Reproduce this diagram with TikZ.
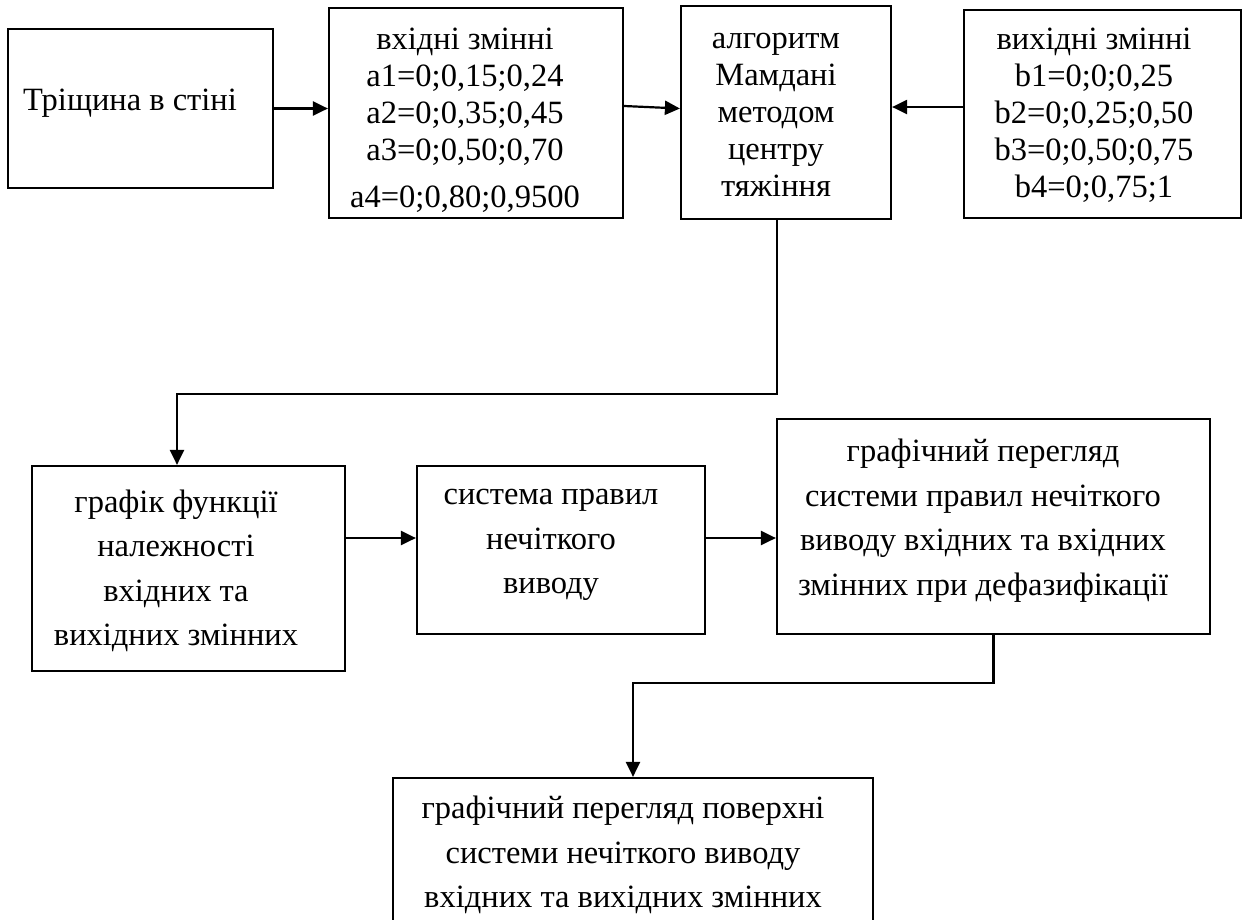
\documentclass[tikz,border=0pt]{standalone}
\usepackage{fontspec}
\setmainfont{Liberation Serif}
\usetikzlibrary{arrows.meta,calc}
\tikzset{
  box/.style={draw=black, line width=2.2pt, rectangle, inner sep=0pt, fill=none},
  txt/.style={align=center, inner sep=0pt, font=\fontsize{32.5}{37}\selectfont},
  txtw/.style={align=center, inner sep=0pt, font=\fontsize{32.5}{44.5}\selectfont},
  arr/.style={line width=2.2pt, -{Triangle[length=15pt,width=14pt]}},
}
\begin{document}
\begin{tikzpicture}[x=1pt,y=-1pt]
\fill[white] (0,0) rectangle (1244,919);
\clip (0,0) rectangle (1244,919);
% boxes
\node[box, minimum width=265pt, minimum height=159pt] (b1) at (140.5,108.5) {};
\node[box, minimum width=294pt, minimum height=210pt] (b2) at (476,113) {};
\node[box, minimum width=210pt, minimum height=213pt] (b3) at (786,112.5) {};
\node[box, minimum width=277pt, minimum height=208pt] (b4) at (1102.5,114) {};
\node[box, minimum width=313pt, minimum height=205pt] (b5) at (188.5,568.5) {};
\node[box, minimum width=288pt, minimum height=168pt] (b6) at (561,550) {};
\node[box, minimum width=433pt, minimum height=215pt] (b7) at (993.5,526.5) {};
\node[box, minimum width=480pt, minimum height=182pt] (b8) at (633,869) {};
% texts
\node[txt] (t1) at (130,103) {Тріщина в стіні};
\node[txt] (t2) at (465,120) {вхідні змінні\\a1=0;0,15;0,24\\a2=0;0,35;0,45\\a3=0;0,50;0,70\\[10pt]a4=0;0,80;0,9500};
\node[txt] (t3) at (776,114.5) {алгоритм\\Мамдані\\методом\\центру\\тяжіння};
\node[txt] (t4) at (1094,115.5) {вихідні змінні\\b1=0;0;0,25\\b2=0;0,25;0,50\\b3=0;0,50;0,75\\b4=0;0,75;1};
\node[txtw] (t5) at (176,571) {графік функції\\належності\\вхідних та\\вихідних змінних};
\node[txtw] (t6) at (551,545) {система правил\\нечіткого\\виводу};
\node[txtw] (t7) at (983,520.5) {графічний перегляд\\системи правил нечіткого\\виводу вхідних та вхідних\\змінних при дефазифікації};
\node[txtw] (t8) at (623,855) {графічний перегляд поверхні\\системи нечіткого виводу\\вхідних та вихідних змінних};
% connectors
\draw[arr] (b1.east) -- (b2.west |- b1.east);
\draw[arr] ([yshift=7pt]b2.east) -- ([yshift=4pt]b3.west);
\coordinate (m43) at ([yshift=7pt]b4.west);
\draw[arr] (m43) -- (m43 -| b3.east);
\draw[arr] ([xshift=-9pt]b3.south) -- ++(0,174) -| ([xshift=-11.5pt]b5.north);
\coordinate (m56) at ([yshift=12pt]b6.west);
\draw[arr] (m56 -| b5.east) -- (m56);
\draw[arr] (m56 -| b6.east) -- (m56 -| b7.west);
\draw[arr] (b7.south) -- ++(0,48) -| (b8.north);
\end{tikzpicture}
\end{document}
